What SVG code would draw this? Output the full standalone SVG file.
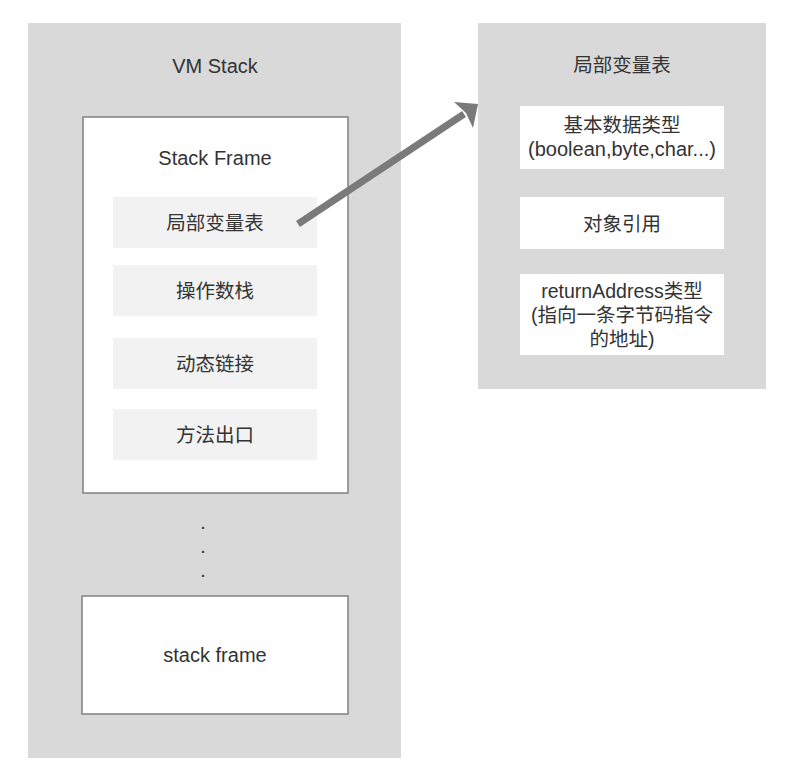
<svg xmlns="http://www.w3.org/2000/svg" width="790" height="784" viewBox="0 0 790 784">
<style>
.bg{fill:#d9d9d9}
.frame{fill:#ffffff;stroke:#808080;stroke-width:1.5}
.item{fill:#f2f2f2}
.wbox{fill:#ffffff}
text{font-family:"Liberation Sans","Noto Sans CJK SC",Arial,sans-serif;font-size:19.5px;fill:#333333;text-anchor:middle}
text.lat{font-size:20px}
.conn{stroke:#7a7a7a;stroke-width:7;fill:none}
</style>
<rect width="790" height="784" fill="#ffffff"/>
<g id="vm-stack">
<rect class="bg" x="28" y="23" width="373" height="735"/>
<text class="lat" x="215" y="73">VM Stack</text>
</g>
<g id="stack-frame">
<rect class="frame" x="83" y="117" width="265" height="376"/>
<text class="lat" x="215" y="165">Stack Frame</text>
</g>
<g id="lvt-item">
<rect class="item" x="113" y="197" width="204" height="51"/>
<text x="215" y="230">局部变量表</text>
</g>
<g id="operand-stack">
<rect class="item" x="113" y="265" width="204" height="51"/>
<text x="215" y="298">操作数栈</text>
</g>
<g id="dynamic-link">
<rect class="item" x="113" y="338" width="204" height="51"/>
<text x="215" y="371">动态链接</text>
</g>
<g id="method-exit">
<rect class="item" x="113" y="409" width="204" height="51"/>
<text x="215" y="442">方法出口</text>
</g>
<g id="dots">
<text x="203" y="529">.</text>
<text x="203" y="553">.</text>
<text x="203" y="577">.</text>
</g>
<g id="stack-frame-2">
<rect class="frame" x="82" y="596" width="266" height="118"/>
<text class="lat" x="215" y="662">stack frame</text>
</g>
<g id="lvt">
<rect class="bg" x="478" y="23" width="288" height="366"/>
<text x="622" y="72">局部变量表</text>
</g>
<g id="primitive">
<rect class="wbox" x="520" y="106" width="204" height="63"/>
<text x="622" y="132">基本数据类型</text>
<text class="lat" x="622" y="156">(boolean,byte,char...)</text>
</g>
<g id="object-ref">
<rect class="wbox" x="520" y="197" width="204" height="52"/>
<text x="622" y="231">对象引用</text>
</g>
<g id="return-address">
<rect class="wbox" x="520" y="274" width="204" height="81"/>
<text x="622" y="298">returnAddress类型</text>
<text x="622" y="322">(指向一条字节码指令</text>
<text x="622" y="346">的地址)</text>
</g>
<g id="connectors">
<line class="conn" x1="298" y1="224" x2="464" y2="114"/>
<polygon points="478,104 454,102 466,113 473,128" fill="#7a7a7a"/>
</g>
</svg>
